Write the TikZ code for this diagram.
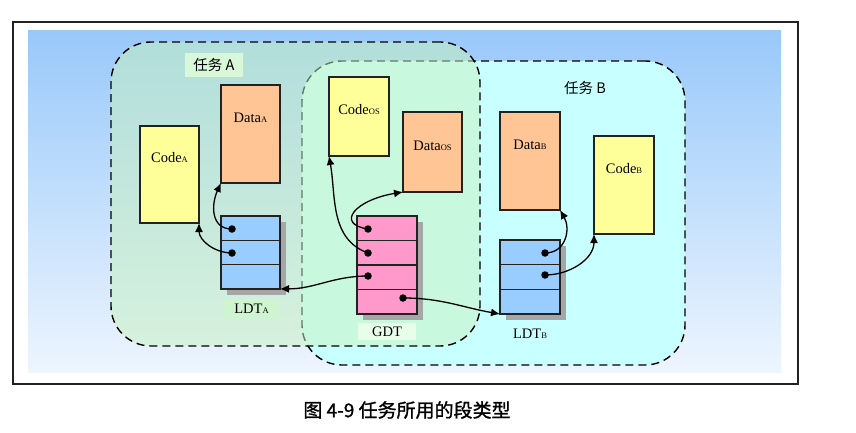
\documentclass[tikz,border=0pt]{standalone}
\usepackage{fontspec}
\setmainfont{Liberation Serif}
\newfontfamily\cjk{Noto Sans CJK SC}
\newfontfamily\cjkcap[FakeBold=1.2]{Noto Sans CJK SC}
\usetikzlibrary{arrows.meta,calc}
\definecolor{bgtop}{HTML}{99C9FA}
\definecolor{bgbot}{HTML}{EDF5FE}
\definecolor{framec}{HTML}{222222}
\definecolor{cyanB}{HTML}{C8FFFF}
\definecolor{greenA}{HTML}{C8F2BE}
\definecolor{yel}{HTML}{FFFF99}
\definecolor{peach}{HTML}{FFC594}
\definecolor{tblue}{HTML}{99CCFF}
\definecolor{tpink}{HTML}{FF99CC}
\definecolor{shad}{HTML}{A6A6A6}
\definecolor{lblgreen}{HTML}{CFF5D0}
\newcommand{\lowsub}[1]{{\fontsize{8.5}{8.5}\selectfont #1}}
\begin{document}
\begin{tikzpicture}[x=1pt,y=-1pt,
  region/.style={rectangle, rounded corners=40pt, inner sep=0pt, outer sep=0pt},
  regionline/.style={region, draw=black, line width=1.4pt, dash pattern=on 8pt off 5pt},
  box/.style={rectangle, draw=framec, line width=1.6pt, inner sep=0pt, outer sep=0pt},
  lbl/.style={anchor=center, font=\fontsize{14.5}{14.5}\selectfont},
  row/.style={box, minimum width=59pt},
  dot/.style={circle, fill=black, inner sep=0pt, minimum size=7.5pt},
  arr/.style={line width=1.3pt, -{Latex[length=9pt,width=8pt]}},
  tag/.style={rectangle, fill=lblgreen, inner sep=0pt, font=\fontsize{14.5}{14.5}\selectfont},
  cjktag/.style={font=\cjk\fontsize{14.5}{14.5}\selectfont}
]
\useasboundingbox (0,0) rectangle (856,433);
\fill[white] (0,0) rectangle (856,433);
\shade[top color=bgtop, bottom color=bgbot] (28,31) rectangle (781,372);
\draw[line width=2pt, framec] (13,22) rectangle (798,384);

% task regions
\node[region, fill=cyanB, minimum width=383pt, minimum height=304pt] (taskB) at (493.5,213) {};
\node[regionline, minimum width=383pt, minimum height=304pt] (taskBline) at (493.5,213) {};
\node[region, fill=greenA, fill opacity=0.5, minimum width=369pt, minimum height=304pt] (taskA) at (295.5,194) {};
\node[regionline, minimum width=369pt, minimum height=304pt] (taskAline) at (295.5,194) {};

% region labels
\node[tag, cjktag, fill=lblgreen!80!white, minimum width=58pt, minimum height=24pt] (tA) at (214,65) {任务 A};
\node[cjktag] (tB) at (585,88) {任务 B};

% segment boxes
\node[box, fill=yel, minimum width=59pt, minimum height=97pt,
  label={[lbl, yshift=-32pt]north:Code\lowsub{A}}] (cA) at (169.5,174.5) {};
\node[box, fill=peach, minimum width=59pt, minimum height=98pt,
  label={[lbl, yshift=-33pt]north:Data\lowsub{A}}] (dA) at (250.5,134) {};
\node[box, fill=yel, minimum width=60pt, minimum height=79pt,
  label={[lbl, yshift=-33pt]north:Code\lowsub{OS}}] (cOS) at (359,116.5) {};
\node[box, fill=peach, minimum width=59pt, minimum height=80pt,
  label={[lbl, yshift=-34pt]north:Data\lowsub{OS}}] (dOS) at (432.5,152) {};
\node[box, fill=peach, minimum width=60pt, minimum height=98pt,
  label={[lbl, yshift=-33pt]north:Data\lowsub{B}}] (dB) at (530,161) {};
\node[box, fill=yel, minimum width=60pt, minimum height=98pt,
  label={[lbl, yshift=-33pt]north:Code\lowsub{B}}] (cB) at (624,185) {};

% table shadows
\fill[shad] (227,222) rectangle (286,295);
\fill[shad] (363,222) rectangle (423,320);
\fill[shad] (506,246) rectangle (566,320);

% LDT A
\node[row, fill=tblue, minimum height=24.3pt] (la1) at (250.5,228.15) {};
\node[row, fill=tblue, minimum height=24.3pt] (la2) at (250.5,252.45) {};
\node[row, fill=tblue, minimum height=24.3pt] (la3) at (250.5,276.75) {};
% GDT
\node[row, fill=tpink, minimum width=60pt, minimum height=24.5pt] (g1) at (387,228.25) {};
\node[row, fill=tpink, minimum width=60pt, minimum height=24.5pt] (g2) at (387,252.75) {};
\node[row, fill=tpink, minimum width=60pt, minimum height=24.5pt] (g3) at (387,277.25) {};
\node[row, fill=tpink, minimum width=60pt, minimum height=24.5pt] (g4) at (387,301.75) {};
% LDT B
\node[row, fill=tblue, minimum width=60pt, minimum height=24.67pt] (lb1) at (530,252.3) {};
\node[row, fill=tblue, minimum width=60pt, minimum height=24.67pt] (lb2) at (530,277) {};
\node[row, fill=tblue, minimum width=60pt, minimum height=24.67pt] (lb3) at (530,301.7) {};

% table labels
\node[tag, minimum width=57pt, minimum height=19pt] (tLA) at (251.5,308.5) {LDT\lowsub{A}};
\node[tag, fill=lblgreen!70!green!20!white, minimum width=58pt, minimum height=17pt] (tG) at (387,331.5) {GDT};
\node[font=\fontsize{14.5}{14.5}\selectfont] (tLB) at (530,334) {LDT\lowsub{B}};

% dots
\node[dot] (pa1) at (232,229) {};
\node[dot] (pa2) at (232,253) {};
\node[dot] (pg1) at (368,229) {};
\node[dot] (pg2) at (368,253) {};
\node[dot] (pg3) at (368,276) {};
\node[dot] (pg4) at (403,298) {};
\node[dot] (pb1) at (545,253) {};
\node[dot] (pb2) at (545,275) {};

% connectors
\draw[arr] (pa1.center) to[out=180, in=-115, looseness=1.2] (dA.south west);
\draw[arr] (pa2.center) to[out=180, in=-90] (cA.south east);
\draw[arr] (pg1.center) .. controls +(-33,-5) and +(-48,8) .. (dOS.south west);
\draw[arr] (pg2.center) to[out=160, in=-80] (cOS.south west);
\draw[arr] (pg3.center) to[out=180, in=0] (la3.south east);
\draw[arr] (pg4.center) to[out=0, in=170] (lb3.south west);
\draw[arr] (pb1.center) to[out=0, in=-60, looseness=1.2] (dB.south east);
\draw[arr] (pb2.center) to[out=0, in=-90] (cB.south west);

% caption
\node[font=\cjkcap\fontsize{19}{19}\selectfont] (cap) at (407,410) {图 4-9 任务所用的段类型};
\end{tikzpicture}
\end{document}
